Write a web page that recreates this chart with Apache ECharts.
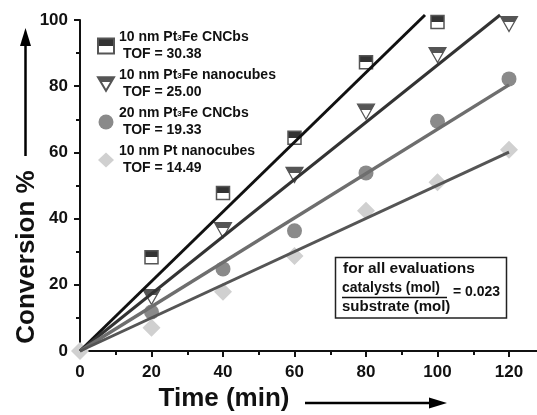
<!DOCTYPE html>
<html>
<head>
<meta charset="utf-8">
<script src="https://cdn.jsdelivr.net/npm/echarts@6/dist/echarts.min.js"></script>
<style>
  html, body { margin: 0; padding: 0; background: #fff; }
  #main { width: 537px; height: 415px; }
</style>
</head>
<body>
<div id="main"></div>
<script>
// measured points (time in min, conversion %)
var timeMin = [20, 40, 60, 80, 100, 120];
var pt3feCncbs10 = [28.3, 47.7, 64.4, 87.2, 99.4];
var pt3feCubes10 = [16.3, 36.5, 53.2, 72.3, 89.4, 98.8];
var pt3feCncbs20 = [11.8, 24.8, 36.3, 53.8, 69.4, 82.2];
var ptCubes10 = [7.0, 17.9, 28.7, 42.4, 51.0, 60.8];

// fitted lines, start and end points
var fitSquare = [[0, 0], [96.5, 101.5]];
var fitTriangle = [[0, 0], [117.5, 101.5]];
var fitCircle = [[0, 0], [120, 80.4]];
var fitDiamond = [[0, 0], [120, 60.1]];

var seriesNames = ['10 nm Pt3Fe CNCbs', '10 nm Pt3Fe nanocubes', '20 nm Pt3Fe CNCbs', '10 nm Pt nanocubes'];
var legendLabels = {
    '10 nm Pt3Fe CNCbs': '10 nm Pt{s|3}Fe CNCbs\n TOF = 30.38',
    '10 nm Pt3Fe nanocubes': '10 nm Pt{s|3}Fe nanocubes\n TOF = 25.00',
    '20 nm Pt3Fe CNCbs': '20 nm Pt{s|3}Fe CNCbs\n TOF = 19.33',
    '10 nm Pt nanocubes': '10 nm Pt nanocubes\n TOF = 14.49'
};

function pairs(xs, ys) {
    return ys.map(function (y, i) { return [xs[i], y]; });
}

function halfFill(top, bottom, cut) {
    return {
        type: 'linear', x: 0, y: 0, x2: 0, y2: 1,
        colorStops: [
            { offset: 0, color: top },
            { offset: cut, color: top },
            { offset: cut, color: bottom },
            { offset: 1, color: bottom }
        ]
    };
}

var font = 'Liberation Sans, Arial, sans-serif';
var downTriangle = 'path://M0,0 L20,0 L10,17 Z';

var chartDom = document.getElementById('main');
var myChart = echarts.init(chartDom);

var option = {
    backgroundColor: '#fff',
    animation: false,
    grid: { left: 80, right: 28, top: 20, bottom: 64, containLabel: false, outerBoundsMode: 'none' },
    legend: {
        orient: 'vertical',
        left: 92,
        top: 24,
        itemGap: 4,
        itemWidth: 16,
        itemHeight: 15,
        itemTextGap: 8,
        data: seriesNames,
        formatter: function (name) { return legendLabels[name]; },
        textStyle: {
            fontFamily: font, fontWeight: 'bold', fontSize: 14, color: '#111', lineHeight: 17,
            rich: {
                s: { fontFamily: font, fontWeight: 'bold', fontSize: 8, color: '#111', verticalAlign: 'bottom', lineHeight: 10, padding: [0, 0, 4, 0] }
            }
        }
    },
    xAxis: {
        type: 'value', min: 0, max: 120, interval: 20,
        name: 'Time (min)', nameLocation: 'middle', nameGap: 35, nameMoveOverlap: false,
        nameTextStyle: { fontFamily: font, fontWeight: 'bold', fontSize: 26, color: '#111', padding: [0, 141, 0, 0] },
        axisLine: { lineStyle: { color: '#111', width: 2 } },
        axisTick: { inside: false, length: 6, lineStyle: { color: '#111', width: 2 } },
        minorTick: { show: true, splitNumber: 2, length: 4, lineStyle: { color: '#111', width: 2 } },
        splitLine: { show: false },
        axisLabel: { fontFamily: font, fontWeight: 'bold', fontSize: 17, color: '#111', margin: 13 }
    },
    yAxis: {
        type: 'value', min: 0, max: 100, interval: 20,
        name: 'Conversion %', nameLocation: 'middle', nameGap: 40, nameRotate: 90, nameMoveOverlap: false,
        nameTextStyle: { fontFamily: font, fontWeight: 'bold', fontSize: 26, color: '#111', padding: [0, 143, 0, 0] },
        axisLine: { show: true, lineStyle: { color: '#111', width: 2 } },
        axisTick: { show: true, inside: false, length: 6, lineStyle: { color: '#111', width: 2 } },
        minorTick: { show: true, splitNumber: 2, length: 4, lineStyle: { color: '#111', width: 2 } },
        splitLine: { show: false },
        axisLabel: { fontFamily: font, fontWeight: 'bold', fontSize: 17, color: '#111', margin: 12 }
    },
    series: [
        {
            name: seriesNames[0], type: 'scatter', z: 2,
            symbol: 'rect', symbolSize: 13,
            itemStyle: { color: halfFill('#333', '#fff', 0.5), borderColor: '#555', borderWidth: 1.5, opacity: 1 },
            data: pairs(timeMin, pt3feCncbs10)
        },
        {
            name: seriesNames[1], type: 'scatter', z: 2,
            symbol: downTriangle, symbolSize: [17, 15],
            itemStyle: { color: halfFill('#555', '#fff', 0.38), borderColor: '#555', borderWidth: 1.2, opacity: 1 },
            data: pairs(timeMin, pt3feCubes10)
        },
        {
            name: seriesNames[2], type: 'scatter', z: 2,
            symbol: 'circle', symbolSize: 15,
            itemStyle: { color: '#8a8a8a', opacity: 1 },
            data: pairs(timeMin, pt3feCncbs20)
        },
        {
            name: seriesNames[3], type: 'scatter', z: 2,
            symbol: 'diamond', symbolSize: 18,
            itemStyle: { color: '#d0d0d0', opacity: 1 },
            data: [[0, 0]].concat(pairs(timeMin, ptCubes10))
        },
        { type: 'line', z: 3, clip: false, symbol: 'none', data: fitSquare, lineStyle: { color: '#111', width: 3 } },
        { type: 'line', z: 3, clip: false, symbol: 'none', data: fitTriangle, lineStyle: { color: '#333', width: 3 } },
        { type: 'line', z: 3, clip: false, symbol: 'none', data: fitCircle, lineStyle: { color: '#6e6e6e', width: 3.5 } },
        { type: 'line', z: 3, clip: false, symbol: 'none', data: fitDiamond, lineStyle: { color: '#555', width: 3 } }
    ],
    graphic: [
        // x axis line runs on past 120
        { type: 'line', shape: { x1: 509, y1: 351, x2: 537, y2: 351 }, style: { stroke: '#111', lineWidth: 2 } },
        // arrow along y name
        { type: 'line', shape: { x1: 25.5, y1: 156, x2: 25.5, y2: 42 }, style: { stroke: '#000', lineWidth: 2.5 } },
        { type: 'polygon', shape: { points: [[25.5, 28], [20, 46], [31, 46]] }, style: { fill: '#000' } },
        // arrow along x name
        { type: 'line', shape: { x1: 305, y1: 403, x2: 432, y2: 403 }, style: { stroke: '#000', lineWidth: 2.5 } },
        { type: 'polygon', shape: { points: [[447, 403], [429, 397.5], [429, 408.5]] }, style: { fill: '#000' } },
        // note box
        { type: 'rect', shape: { x: 335.5, y: 257.5, width: 171, height: 60.5 }, style: { fill: '#fff', stroke: '#222', lineWidth: 1.5 }, z: 10 },
        { type: 'text', left: 343, top: 261, z: 11, style: { text: 'for all evaluations', font: 'bold 15.5px ' + font, fill: '#111' } },
        { type: 'text', left: 342, top: 281, z: 11, style: { text: 'catalysts (mol)', font: 'bold 14px ' + font, fill: '#111' } },
        { type: 'line', z: 11, shape: { x1: 342, y1: 297.5, x2: 447, y2: 297.5 }, style: { stroke: '#111', lineWidth: 1.3 } },
        { type: 'text', left: 342, top: 299, z: 11, style: { text: 'substrate (mol)', font: 'bold 15px ' + font, fill: '#111' } },
        { type: 'text', left: 453, top: 285, z: 11, style: { text: '= 0.023', font: 'bold 14px ' + font, fill: '#111' } }
    ]
};

option && myChart.setOption(option);
</script>
</body>
</html>
